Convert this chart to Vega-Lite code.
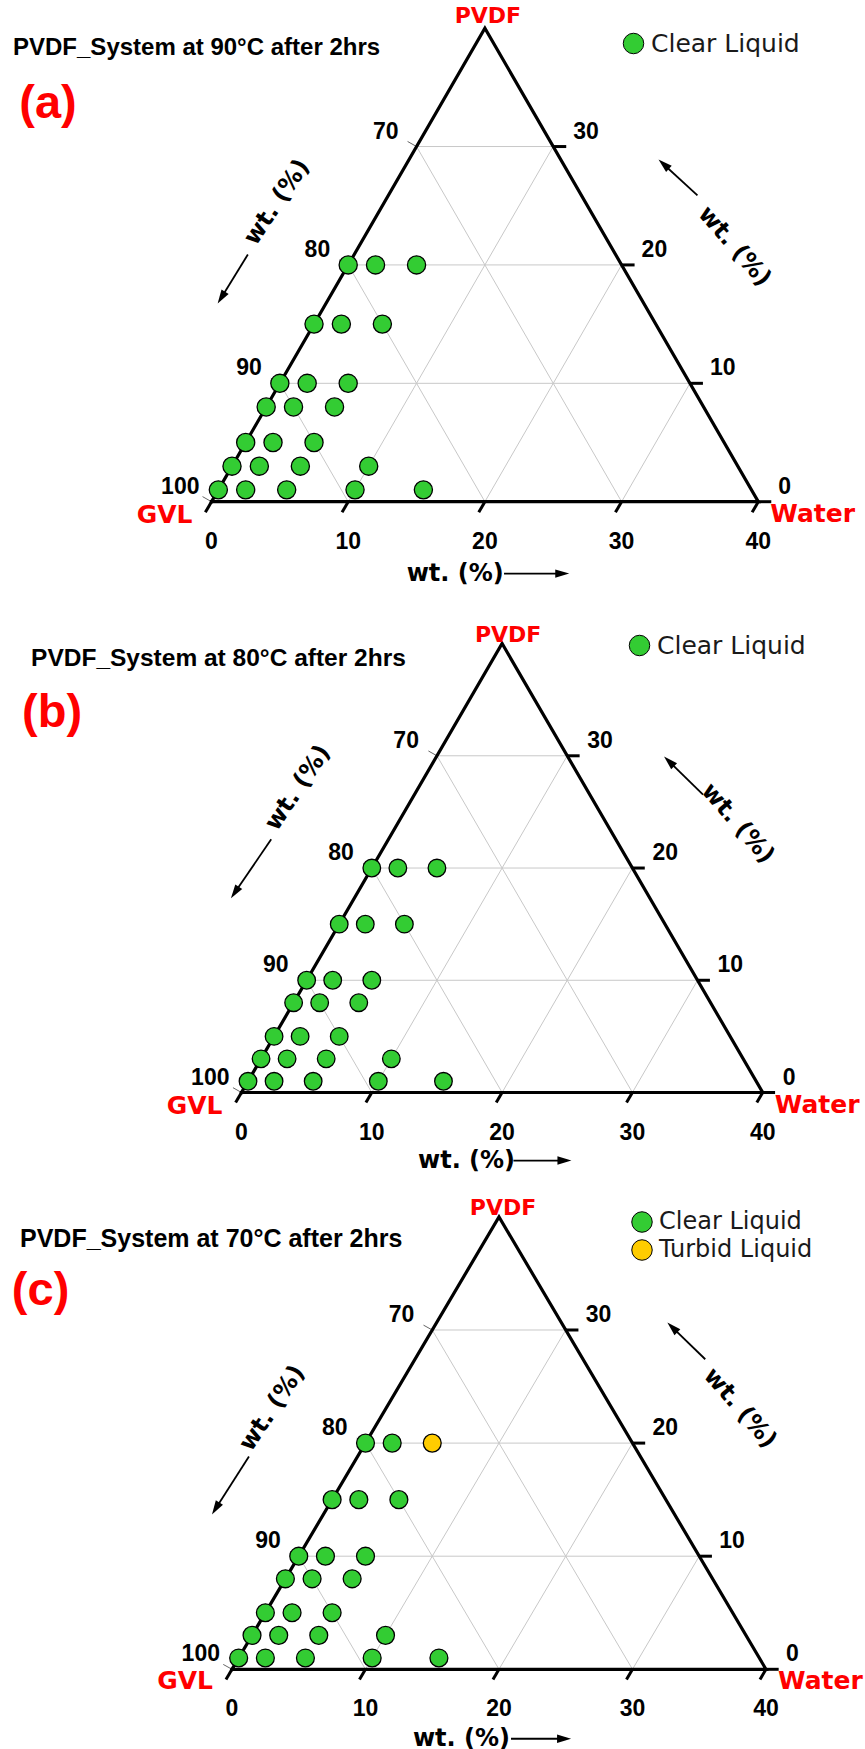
{
  "$schema": "https://vega.github.io/schema/vega-lite/v6.json",
  "background": "white",
  "padding": 0,
  "spacing": 0,
  "config": {"view": {"stroke": null}},
  "resolve": {"scale": {"fill": "independent", "x": "independent", "y": "independent"}, "legend": {"fill": "independent"}},
  "datasets": {
    "grid": [
      {"w": 0, "p": 10, "w2": 30, "p2": 10},
      {"w": 0, "p": 20, "w2": 20, "p2": 20},
      {"w": 0, "p": 30, "w2": 10, "p2": 30},
      {"w": 10, "p": 0, "w2": 10, "p2": 30},
      {"w": 20, "p": 0, "w2": 20, "p2": 20},
      {"w": 30, "p": 0, "w2": 30, "p2": 10},
      {"w": 10, "p": 0, "w2": 0, "p2": 10},
      {"w": 20, "p": 0, "w2": 0, "p2": 20},
      {"w": 30, "p": 0, "w2": 0, "p2": 30}
    ],
    "majorTicks": [
      {"w": 0, "p": 0, "w2": 0, "p2": -0.9},
      {"w": 10, "p": 0, "w2": 10, "p2": -0.9},
      {"w": 20, "p": 0, "w2": 20, "p2": -0.9},
      {"w": 30, "p": 0, "w2": 30, "p2": -0.9},
      {"w": 40, "p": 0, "w2": 40, "p2": -0.9},
      {"w": 40, "p": 0, "w2": 40.95, "p2": 0},
      {"w": 30, "p": 10, "w2": 30.95, "p2": 10},
      {"w": 20, "p": 20, "w2": 20.95, "p2": 20},
      {"w": 10, "p": 30, "w2": 10.95, "p2": 30}
    ],
    "minorTicks": [
      {"w": 0, "p": 0, "w2": -0.87, "p2": 0.43},
      {"w": 0, "p": 10, "w2": -0.87, "p2": 10.43},
      {"w": 0, "p": 20, "w2": -0.87, "p2": 20.43},
      {"w": 0, "p": 30, "w2": -0.87, "p2": 30.43}
    ],
    "frame": [
      {"w": 0, "p": 0, "k": 0},
      {"w": 40, "p": 0, "k": 1},
      {"w": 0, "p": 40, "k": 2},
      {"w": 0, "p": 0, "k": 3}
    ],
    "axisLabels": [
      {"side": "bottom", "w": 0, "p": 0, "label": "0"},
      {"side": "bottom", "w": 10, "p": 0, "label": "10"},
      {"side": "bottom", "w": 20, "p": 0, "label": "20"},
      {"side": "bottom", "w": 30, "p": 0, "label": "30"},
      {"side": "bottom", "w": 40, "p": 0, "label": "40"},
      {"side": "left", "w": 0, "p": 30, "label": "70"},
      {"side": "left", "w": 0, "p": 20, "label": "80"},
      {"side": "left", "w": 0, "p": 10, "label": "90"},
      {"side": "left", "w": 0, "p": 0, "label": "100"},
      {"side": "right", "w": 40, "p": 0, "label": "0"},
      {"side": "right", "w": 30, "p": 10, "label": "10"},
      {"side": "right", "w": 20, "p": 20, "label": "20"},
      {"side": "right", "w": 10, "p": 30, "label": "30"}
    ],
    "vertices": [
      {"name": "PVDF", "w": 0, "p": 40},
      {"name": "GVL", "w": 0, "p": 0},
      {"name": "Water", "w": 40, "p": 0}
    ],
    "wt": [{"t": "wt. (%)"}],
    "samples90": [
      {"water": 0, "pvdf": 20, "gvl": 80, "state": "Clear Liquid"},
      {"water": 2, "pvdf": 20, "gvl": 78, "state": "Clear Liquid"},
      {"water": 5, "pvdf": 20, "gvl": 75, "state": "Clear Liquid"},
      {"water": 0, "pvdf": 15, "gvl": 85, "state": "Clear Liquid"},
      {"water": 2, "pvdf": 15, "gvl": 83, "state": "Clear Liquid"},
      {"water": 5, "pvdf": 15, "gvl": 80, "state": "Clear Liquid"},
      {"water": 0, "pvdf": 10, "gvl": 90, "state": "Clear Liquid"},
      {"water": 2, "pvdf": 10, "gvl": 88, "state": "Clear Liquid"},
      {"water": 5, "pvdf": 10, "gvl": 85, "state": "Clear Liquid"},
      {"water": 0, "pvdf": 8, "gvl": 92, "state": "Clear Liquid"},
      {"water": 2, "pvdf": 8, "gvl": 90, "state": "Clear Liquid"},
      {"water": 5, "pvdf": 8, "gvl": 87, "state": "Clear Liquid"},
      {"water": 0, "pvdf": 5, "gvl": 95, "state": "Clear Liquid"},
      {"water": 2, "pvdf": 5, "gvl": 93, "state": "Clear Liquid"},
      {"water": 5, "pvdf": 5, "gvl": 90, "state": "Clear Liquid"},
      {"water": 0, "pvdf": 3, "gvl": 97, "state": "Clear Liquid"},
      {"water": 2, "pvdf": 3, "gvl": 95, "state": "Clear Liquid"},
      {"water": 5, "pvdf": 3, "gvl": 92, "state": "Clear Liquid"},
      {"water": 10, "pvdf": 3, "gvl": 87, "state": "Clear Liquid"},
      {"water": 0, "pvdf": 1, "gvl": 99, "state": "Clear Liquid"},
      {"water": 2, "pvdf": 1, "gvl": 97, "state": "Clear Liquid"},
      {"water": 5, "pvdf": 1, "gvl": 94, "state": "Clear Liquid"},
      {"water": 10, "pvdf": 1, "gvl": 89, "state": "Clear Liquid"},
      {"water": 15, "pvdf": 1, "gvl": 84, "state": "Clear Liquid"}
    ],
    "samples80": [
      {"water": 0, "pvdf": 20, "gvl": 80, "state": "Clear Liquid"},
      {"water": 2, "pvdf": 20, "gvl": 78, "state": "Clear Liquid"},
      {"water": 5, "pvdf": 20, "gvl": 75, "state": "Clear Liquid"},
      {"water": 0, "pvdf": 15, "gvl": 85, "state": "Clear Liquid"},
      {"water": 2, "pvdf": 15, "gvl": 83, "state": "Clear Liquid"},
      {"water": 5, "pvdf": 15, "gvl": 80, "state": "Clear Liquid"},
      {"water": 0, "pvdf": 10, "gvl": 90, "state": "Clear Liquid"},
      {"water": 2, "pvdf": 10, "gvl": 88, "state": "Clear Liquid"},
      {"water": 5, "pvdf": 10, "gvl": 85, "state": "Clear Liquid"},
      {"water": 0, "pvdf": 8, "gvl": 92, "state": "Clear Liquid"},
      {"water": 2, "pvdf": 8, "gvl": 90, "state": "Clear Liquid"},
      {"water": 5, "pvdf": 8, "gvl": 87, "state": "Clear Liquid"},
      {"water": 0, "pvdf": 5, "gvl": 95, "state": "Clear Liquid"},
      {"water": 2, "pvdf": 5, "gvl": 93, "state": "Clear Liquid"},
      {"water": 5, "pvdf": 5, "gvl": 90, "state": "Clear Liquid"},
      {"water": 0, "pvdf": 3, "gvl": 97, "state": "Clear Liquid"},
      {"water": 2, "pvdf": 3, "gvl": 95, "state": "Clear Liquid"},
      {"water": 5, "pvdf": 3, "gvl": 92, "state": "Clear Liquid"},
      {"water": 10, "pvdf": 3, "gvl": 87, "state": "Clear Liquid"},
      {"water": 0, "pvdf": 1, "gvl": 99, "state": "Clear Liquid"},
      {"water": 2, "pvdf": 1, "gvl": 97, "state": "Clear Liquid"},
      {"water": 5, "pvdf": 1, "gvl": 94, "state": "Clear Liquid"},
      {"water": 10, "pvdf": 1, "gvl": 89, "state": "Clear Liquid"},
      {"water": 15, "pvdf": 1, "gvl": 84, "state": "Clear Liquid"}
    ],
    "samples70": [
      {"water": 0, "pvdf": 20, "gvl": 80, "state": "Clear Liquid"},
      {"water": 2, "pvdf": 20, "gvl": 78, "state": "Clear Liquid"},
      {"water": 5, "pvdf": 20, "gvl": 75, "state": "Turbid Liquid"},
      {"water": 0, "pvdf": 15, "gvl": 85, "state": "Clear Liquid"},
      {"water": 2, "pvdf": 15, "gvl": 83, "state": "Clear Liquid"},
      {"water": 5, "pvdf": 15, "gvl": 80, "state": "Clear Liquid"},
      {"water": 0, "pvdf": 10, "gvl": 90, "state": "Clear Liquid"},
      {"water": 2, "pvdf": 10, "gvl": 88, "state": "Clear Liquid"},
      {"water": 5, "pvdf": 10, "gvl": 85, "state": "Clear Liquid"},
      {"water": 0, "pvdf": 8, "gvl": 92, "state": "Clear Liquid"},
      {"water": 2, "pvdf": 8, "gvl": 90, "state": "Clear Liquid"},
      {"water": 5, "pvdf": 8, "gvl": 87, "state": "Clear Liquid"},
      {"water": 0, "pvdf": 5, "gvl": 95, "state": "Clear Liquid"},
      {"water": 2, "pvdf": 5, "gvl": 93, "state": "Clear Liquid"},
      {"water": 5, "pvdf": 5, "gvl": 90, "state": "Clear Liquid"},
      {"water": 0, "pvdf": 3, "gvl": 97, "state": "Clear Liquid"},
      {"water": 2, "pvdf": 3, "gvl": 95, "state": "Clear Liquid"},
      {"water": 5, "pvdf": 3, "gvl": 92, "state": "Clear Liquid"},
      {"water": 10, "pvdf": 3, "gvl": 87, "state": "Clear Liquid"},
      {"water": 0, "pvdf": 1, "gvl": 99, "state": "Clear Liquid"},
      {"water": 2, "pvdf": 1, "gvl": 97, "state": "Clear Liquid"},
      {"water": 5, "pvdf": 1, "gvl": 94, "state": "Clear Liquid"},
      {"water": 10, "pvdf": 1, "gvl": 89, "state": "Clear Liquid"},
      {"water": 15, "pvdf": 1, "gvl": 84, "state": "Clear Liquid"}
    ]
  },
  "vconcat": [
    {
      "width": 865,
      "height": 600,
      "layer": [
        {
          "encoding": {
            "x": {"field": "X", "type": "quantitative", "axis": null, "scale": {"domain": [-15.472, 47.806], "nice": false, "zero": false}},
            "y": {"field": "Y", "type": "quantitative", "axis": null, "scale": {"domain": [-7.191, 36.701], "nice": false, "zero": false}}
          },
          "layer": [
            {"data": {"name": "grid"}, "transform": [{"calculate": "datum.w + datum.p/2", "as": "X"}, {"calculate": "datum.p*0.8660254", "as": "Y"}, {"calculate": "datum.w2 + datum.p2/2", "as": "X2"}, {"calculate": "datum.p2*0.8660254", "as": "Y2"}],
             "mark": {"type": "rule", "color": "#c8c8c8", "strokeWidth": 1}, "encoding": {"x2": {"field": "X2"}, "y2": {"field": "Y2"}}},
            {"data": {"name": "minorTicks"}, "transform": [{"calculate": "datum.w + datum.p/2", "as": "X"}, {"calculate": "datum.p*0.8660254", "as": "Y"}, {"calculate": "datum.w2 + datum.p2/2", "as": "X2"}, {"calculate": "datum.p2*0.8660254", "as": "Y2"}],
             "mark": {"type": "rule", "color": "#666666", "strokeWidth": 1}, "encoding": {"x2": {"field": "X2"}, "y2": {"field": "Y2"}}},
            {"data": {"name": "majorTicks"}, "transform": [{"calculate": "datum.w + datum.p/2", "as": "X"}, {"calculate": "datum.p*0.8660254", "as": "Y"}, {"calculate": "datum.w2 + datum.p2/2", "as": "X2"}, {"calculate": "datum.p2*0.8660254", "as": "Y2"}],
             "mark": {"type": "rule", "color": "black", "strokeWidth": 3}, "encoding": {"x2": {"field": "X2"}, "y2": {"field": "Y2"}}},
            {"data": {"name": "frame"}, "transform": [{"calculate": "datum.w + datum.p/2", "as": "X"}, {"calculate": "datum.p*0.8660254", "as": "Y"}],
             "mark": {"type": "line", "color": "black", "strokeWidth": 3.2, "strokeJoin": "miter", "strokeCap": "square"}, "encoding": {"order": {"field": "k", "type": "quantitative"}}},
            {"data": {"name": "samples90"}, "transform": [{"calculate": "datum.water + datum.pvdf/2", "as": "X"}, {"calculate": "datum.pvdf*0.8660254", "as": "Y"}],
             "mark": {"type": "point", "shape": "circle", "filled": true, "opacity": 1, "size": 330, "stroke": "black", "strokeWidth": 1.3},
             "encoding": {"fill": {"field": "state", "type": "nominal", "scale": {"domain": ["Clear Liquid"], "range": ["#33cc33"]},
               "legend": {"orient": "none", "legendX": 621, "legendY": 31, "title": null, "symbolType": "circle", "symbolSize": 420, "symbolStrokeColor": "black", "symbolStrokeWidth": 1, "labelFont": "DejaVu Sans", "labelFontSize": 25, "labelColor": "#1a1a1a", "labelOffset": 5, "rowPadding": 2, "padding": 0, "labelLimit": 300,
                 "encode": {"symbols": {"update": {"fill": {"signal": "datum.value === 'Clear Liquid' ? '#009933' : '#ffcc00'"}, "stroke": {"value": "black"}, "strokeWidth": {"value": 1}, "opacity": {"value": 1}}}}}}}},
            {"data": {"name": "axisLabels"}, "transform": [{"filter": "datum.side === 'bottom'"}, {"calculate": "datum.w + datum.p/2", "as": "X"}, {"calculate": "datum.p*0.8660254", "as": "Y"}],
             "mark": {"type": "text", "font": "Liberation Sans", "fontWeight": "bold", "fontSize": 23, "color": "black", "align": "center", "baseline": "alphabetic", "dy": 47}, "encoding": {"text": {"field": "label"}}},
            {"data": {"name": "axisLabels"}, "transform": [{"filter": "datum.side === 'left' && datum.label !== '100'"}, {"calculate": "datum.w + datum.p/2", "as": "X"}, {"calculate": "datum.p*0.8660254", "as": "Y"}],
             "mark": {"type": "text", "font": "Liberation Sans", "fontWeight": "bold", "fontSize": 23, "color": "black", "align": "right", "baseline": "alphabetic", "dx": -18, "dy": -8}, "encoding": {"text": {"field": "label"}}},
            {"data": {"name": "axisLabels"}, "transform": [{"filter": "datum.side === 'left' && datum.label === '100'"}, {"calculate": "datum.w + datum.p/2", "as": "X"}, {"calculate": "datum.p*0.8660254", "as": "Y"}],
             "mark": {"type": "text", "font": "Liberation Sans", "fontWeight": "bold", "fontSize": 23, "color": "black", "align": "right", "baseline": "alphabetic", "dx": -12, "dy": -8}, "encoding": {"text": {"field": "label"}}},
            {"data": {"name": "axisLabels"}, "transform": [{"filter": "datum.side === 'right'"}, {"calculate": "datum.w + datum.p/2", "as": "X"}, {"calculate": "datum.p*0.8660254", "as": "Y"}],
             "mark": {"type": "text", "font": "Liberation Sans", "fontWeight": "bold", "fontSize": 23, "color": "black", "align": "left", "baseline": "alphabetic", "dx": 20, "dy": -8}, "encoding": {"text": {"field": "label"}}},
            {"data": {"name": "vertices"}, "transform": [{"filter": "datum.name === 'PVDF'"}, {"calculate": "datum.w + datum.p/2", "as": "X"}, {"calculate": "datum.p*0.8660254", "as": "Y"}],
             "mark": {"type": "text", "font": "DejaVu Sans", "fontWeight": "bold", "fontSize": 22, "color": "#ff0000", "align": "center", "baseline": "alphabetic", "dx": 3, "dy": -5}, "encoding": {"text": {"field": "name"}}},
            {"data": {"name": "vertices"}, "transform": [{"filter": "datum.name === 'GVL'"}, {"calculate": "datum.w + datum.p/2", "as": "X"}, {"calculate": "datum.p*0.8660254", "as": "Y"}],
             "mark": {"type": "text", "font": "DejaVu Sans", "fontWeight": "bold", "fontSize": 25, "color": "#ff0000", "align": "right", "baseline": "alphabetic", "dx": -19, "dy": 21}, "encoding": {"text": {"field": "name"}}},
            {"data": {"name": "vertices"}, "transform": [{"filter": "datum.name === 'Water'"}, {"calculate": "datum.w + datum.p/2", "as": "X"}, {"calculate": "datum.p*0.8660254", "as": "Y"}],
             "mark": {"type": "text", "font": "DejaVu Sans", "fontWeight": "bold", "fontSize": 25, "color": "#ff0000", "align": "left", "baseline": "alphabetic", "dx": 12, "dy": 20}, "encoding": {"text": {"field": "name"}}}
          ]
        },
        {
          "layer": [
            {"data": {"values": [{"caption": "PVDF_System at 90°C after 2hrs"}]},
             "mark": {"type": "text", "font": "Liberation Sans", "fontWeight": "bold", "fontSize": 24, "color": "black", "align": "left", "baseline": "alphabetic"},
             "encoding": {"x": {"datum": -14.52}, "y": {"datum": 32.68}, "text": {"field": "caption"}}},
            {"data": {"values": [{"tag": "(a)"}]},
             "mark": {"type": "text", "font": "Liberation Sans", "fontWeight": "bold", "fontSize": 47, "color": "#ff0000", "align": "center", "baseline": "alphabetic"},
             "encoding": {"x": {"datum": -11.96}, "y": {"datum": 28.07}, "text": {"field": "tag"}}},
            {"data": {"name": "wt"}, "mark": {"type": "text", "font": "DejaVu Sans", "fontWeight": "bold", "fontSize": 24, "color": "black", "align": "center", "baseline": "middle", "angle": 304},
             "encoding": {"x": {"datum": 4.8}, "y": {"datum": 21.9}, "text": {"field": "t"}}},
            {"data": {"name": "wt"}, "mark": {"type": "text", "font": "DejaVu Sans", "fontWeight": "bold", "fontSize": 24, "color": "black", "align": "center", "baseline": "middle", "angle": 49},
             "encoding": {"x": {"datum": 38.25}, "y": {"datum": 18.66}, "text": {"field": "t"}}},
            {"data": {"name": "wt"}, "mark": {"type": "text", "font": "DejaVu Sans", "fontWeight": "bold", "fontSize": 24, "color": "black", "align": "center", "baseline": "middle"},
             "encoding": {"x": {"datum": 17.83}, "y": {"datum": -5.26}, "text": {"field": "t"}}},
            {"data": {"name": "wt"}, "mark": {"type": "rule", "color": "black", "strokeWidth": 1.8},
             "encoding": {"x": {"datum": 2.66}, "y": {"datum": 18.08}, "x2": {"datum": 0.66}, "y2": {"datum": 14.83}}},
            {"data": {"name": "wt"}, "mark": {"type": "rule", "color": "black", "strokeWidth": 1.8},
             "encoding": {"x": {"datum": 35.55}, "y": {"datum": 22.41}, "x2": {"datum": 32.99}, "y2": {"datum": 24.76}}},
            {"data": {"name": "wt"}, "mark": {"type": "rule", "color": "black", "strokeWidth": 1.8},
             "encoding": {"x": {"datum": 21.4}, "y": {"datum": -5.26}, "x2": {"datum": 25.8}, "y2": {"datum": -5.26}}},
            {"data": {"name": "wt"}, "mark": {"type": "point", "shape": "M0,0L-2,-0.6L-2,0.6Z", "filled": true, "opacity": 1, "color": "black", "size": 196, "angle": 122},
             "encoding": {"x": {"datum": 0.45}, "y": {"datum": 14.49}}},
            {"data": {"name": "wt"}, "mark": {"type": "point", "shape": "M0,0L-2,-0.6L-2,0.6Z", "filled": true, "opacity": 1, "color": "black", "size": 196, "angle": 222},
             "encoding": {"x": {"datum": 32.7}, "y": {"datum": 25.03}}},
            {"data": {"name": "wt"}, "mark": {"type": "point", "shape": "M0,0L-2,-0.6L-2,0.6Z", "filled": true, "opacity": 1, "color": "black", "size": 196, "angle": 0},
             "encoding": {"x": {"datum": 26.17}, "y": {"datum": -5.26}}}
          ]
        }
      ]
    },
    {
      "width": 865,
      "height": 585,
      "layer": [
        {
          "encoding": {
            "x": {"field": "X", "type": "quantitative", "axis": null, "scale": {"domain": [-18.534, 47.851], "nice": false, "zero": false}},
            "y": {"field": "Y", "type": "quantitative", "axis": null, "scale": {"domain": [-7.137, 38.002], "nice": false, "zero": false}}
          },
          "layer": [
            {"data": {"name": "grid"}, "transform": [{"calculate": "datum.w + datum.p/2", "as": "X"}, {"calculate": "datum.p*0.8660254", "as": "Y"}, {"calculate": "datum.w2 + datum.p2/2", "as": "X2"}, {"calculate": "datum.p2*0.8660254", "as": "Y2"}],
             "mark": {"type": "rule", "color": "#c8c8c8", "strokeWidth": 1}, "encoding": {"x2": {"field": "X2"}, "y2": {"field": "Y2"}}},
            {"data": {"name": "minorTicks"}, "transform": [{"calculate": "datum.w + datum.p/2", "as": "X"}, {"calculate": "datum.p*0.8660254", "as": "Y"}, {"calculate": "datum.w2 + datum.p2/2", "as": "X2"}, {"calculate": "datum.p2*0.8660254", "as": "Y2"}],
             "mark": {"type": "rule", "color": "#666666", "strokeWidth": 1}, "encoding": {"x2": {"field": "X2"}, "y2": {"field": "Y2"}}},
            {"data": {"name": "majorTicks"}, "transform": [{"calculate": "datum.w + datum.p/2", "as": "X"}, {"calculate": "datum.p*0.8660254", "as": "Y"}, {"calculate": "datum.w2 + datum.p2/2", "as": "X2"}, {"calculate": "datum.p2*0.8660254", "as": "Y2"}],
             "mark": {"type": "rule", "color": "black", "strokeWidth": 3}, "encoding": {"x2": {"field": "X2"}, "y2": {"field": "Y2"}}},
            {"data": {"name": "frame"}, "transform": [{"calculate": "datum.w + datum.p/2", "as": "X"}, {"calculate": "datum.p*0.8660254", "as": "Y"}],
             "mark": {"type": "line", "color": "black", "strokeWidth": 3.2, "strokeJoin": "miter", "strokeCap": "square"}, "encoding": {"order": {"field": "k", "type": "quantitative"}}},
            {"data": {"name": "samples80"}, "transform": [{"calculate": "datum.water + datum.pvdf/2", "as": "X"}, {"calculate": "datum.pvdf*0.8660254", "as": "Y"}],
             "mark": {"type": "point", "shape": "circle", "filled": true, "opacity": 1, "size": 310, "stroke": "black", "strokeWidth": 1.3},
             "encoding": {"fill": {"field": "state", "type": "nominal", "scale": {"domain": ["Clear Liquid"], "range": ["#33cc33"]},
               "legend": {"orient": "none", "legendX": 627, "legendY": 33, "title": null, "symbolType": "circle", "symbolSize": 420, "symbolStrokeColor": "black", "symbolStrokeWidth": 1, "labelFont": "DejaVu Sans", "labelFontSize": 25, "labelColor": "#1a1a1a", "labelOffset": 5, "rowPadding": 2, "padding": 0, "labelLimit": 300,
                 "encode": {"symbols": {"update": {"fill": {"signal": "datum.value === 'Clear Liquid' ? '#009933' : '#ffcc00'"}, "stroke": {"value": "black"}, "strokeWidth": {"value": 1}, "opacity": {"value": 1}}}}}}}},
            {"data": {"name": "axisLabels"}, "transform": [{"filter": "datum.side === 'bottom'"}, {"calculate": "datum.w + datum.p/2", "as": "X"}, {"calculate": "datum.p*0.8660254", "as": "Y"}],
             "mark": {"type": "text", "font": "Liberation Sans", "fontWeight": "bold", "fontSize": 23, "color": "black", "align": "center", "baseline": "alphabetic", "dy": 47}, "encoding": {"text": {"field": "label"}}},
            {"data": {"name": "axisLabels"}, "transform": [{"filter": "datum.side === 'left' && datum.label !== '100'"}, {"calculate": "datum.w + datum.p/2", "as": "X"}, {"calculate": "datum.p*0.8660254", "as": "Y"}],
             "mark": {"type": "text", "font": "Liberation Sans", "fontWeight": "bold", "fontSize": 23, "color": "black", "align": "right", "baseline": "alphabetic", "dx": -18, "dy": -8}, "encoding": {"text": {"field": "label"}}},
            {"data": {"name": "axisLabels"}, "transform": [{"filter": "datum.side === 'left' && datum.label === '100'"}, {"calculate": "datum.w + datum.p/2", "as": "X"}, {"calculate": "datum.p*0.8660254", "as": "Y"}],
             "mark": {"type": "text", "font": "Liberation Sans", "fontWeight": "bold", "fontSize": 23, "color": "black", "align": "right", "baseline": "alphabetic", "dx": -12, "dy": -8}, "encoding": {"text": {"field": "label"}}},
            {"data": {"name": "axisLabels"}, "transform": [{"filter": "datum.side === 'right'"}, {"calculate": "datum.w + datum.p/2", "as": "X"}, {"calculate": "datum.p*0.8660254", "as": "Y"}],
             "mark": {"type": "text", "font": "Liberation Sans", "fontWeight": "bold", "fontSize": 23, "color": "black", "align": "left", "baseline": "alphabetic", "dx": 20, "dy": -8}, "encoding": {"text": {"field": "label"}}},
            {"data": {"name": "vertices"}, "transform": [{"filter": "datum.name === 'PVDF'"}, {"calculate": "datum.w + datum.p/2", "as": "X"}, {"calculate": "datum.p*0.8660254", "as": "Y"}],
             "mark": {"type": "text", "font": "DejaVu Sans", "fontWeight": "bold", "fontSize": 22, "color": "#ff0000", "align": "center", "baseline": "alphabetic", "dx": 6, "dy": -2}, "encoding": {"text": {"field": "name"}}},
            {"data": {"name": "vertices"}, "transform": [{"filter": "datum.name === 'GVL'"}, {"calculate": "datum.w + datum.p/2", "as": "X"}, {"calculate": "datum.p*0.8660254", "as": "Y"}],
             "mark": {"type": "text", "font": "DejaVu Sans", "fontWeight": "bold", "fontSize": 25, "color": "#ff0000", "align": "right", "baseline": "alphabetic", "dx": -19, "dy": 21}, "encoding": {"text": {"field": "name"}}},
            {"data": {"name": "vertices"}, "transform": [{"filter": "datum.name === 'Water'"}, {"calculate": "datum.w + datum.p/2", "as": "X"}, {"calculate": "datum.p*0.8660254", "as": "Y"}],
             "mark": {"type": "text", "font": "DejaVu Sans", "fontWeight": "bold", "fontSize": 25, "color": "#ff0000", "align": "left", "baseline": "alphabetic", "dx": 12, "dy": 20}, "encoding": {"text": {"field": "name"}}}
          ]
        },
        {
          "layer": [
            {"data": {"values": [{"caption": "PVDF_System at 80°C after 2hrs"}]},
             "mark": {"type": "text", "font": "Liberation Sans", "fontWeight": "bold", "fontSize": 24.5, "color": "black", "align": "left", "baseline": "alphabetic"},
             "encoding": {"x": {"datum": -16.15}, "y": {"datum": 32.91}, "text": {"field": "caption"}}},
            {"data": {"values": [{"tag": "(b)"}]},
             "mark": {"type": "text", "font": "Liberation Sans", "fontWeight": "bold", "fontSize": 47, "color": "#ff0000", "align": "center", "baseline": "alphabetic"},
             "encoding": {"x": {"datum": -14.54}, "y": {"datum": 28.2}, "text": {"field": "tag"}}},
            {"data": {"name": "wt"}, "mark": {"type": "text", "font": "DejaVu Sans", "fontWeight": "bold", "fontSize": 24, "color": "black", "align": "center", "baseline": "middle", "angle": 304},
             "encoding": {"x": {"datum": 4.34}, "y": {"datum": 23.5}, "text": {"field": "t"}}},
            {"data": {"name": "wt"}, "mark": {"type": "text", "font": "DejaVu Sans", "fontWeight": "bold", "fontSize": 24, "color": "black", "align": "center", "baseline": "middle", "angle": 49},
             "encoding": {"x": {"datum": 38.08}, "y": {"datum": 20.75}, "text": {"field": "t"}}},
            {"data": {"name": "wt"}, "mark": {"type": "text", "font": "DejaVu Sans", "fontWeight": "bold", "fontSize": 24, "color": "black", "align": "center", "baseline": "middle"},
             "encoding": {"x": {"datum": 17.27}, "y": {"datum": -5.25}, "text": {"field": "t"}}},
            {"data": {"name": "wt"}, "mark": {"type": "rule", "color": "black", "strokeWidth": 1.8},
             "encoding": {"x": {"datum": 2.28}, "y": {"datum": 19.54}, "x2": {"datum": -0.59}, "y2": {"datum": 15.31}}},
            {"data": {"name": "wt"}, "mark": {"type": "rule", "color": "black", "strokeWidth": 1.8},
             "encoding": {"x": {"datum": 35.42}, "y": {"datum": 22.99}, "x2": {"datum": 32.72}, "y2": {"datum": 25.64}}},
            {"data": {"name": "wt"}, "mark": {"type": "rule", "color": "black", "strokeWidth": 1.8},
             "encoding": {"x": {"datum": 20.87}, "y": {"datum": -5.25}, "x2": {"datum": 24.95}, "y2": {"datum": -5.25}}},
            {"data": {"name": "wt"}, "mark": {"type": "point", "shape": "M0,0L-2,-0.6L-2,0.6Z", "filled": true, "opacity": 1, "color": "black", "size": 196, "angle": 124},
             "encoding": {"x": {"datum": -0.81}, "y": {"datum": 14.98}}},
            {"data": {"name": "wt"}, "mark": {"type": "point", "shape": "M0,0L-2,-0.6L-2,0.6Z", "filled": true, "opacity": 1, "color": "black", "size": 196, "angle": 224},
             "encoding": {"x": {"datum": 32.43}, "y": {"datum": 25.92}}},
            {"data": {"name": "wt"}, "mark": {"type": "point", "shape": "M0,0L-2,-0.6L-2,0.6Z", "filled": true, "opacity": 1, "color": "black", "size": 196, "angle": 0},
             "encoding": {"x": {"datum": 25.32}, "y": {"datum": -5.25}}}
          ]
        }
      ]
    },
    {
      "width": 865,
      "height": 564,
      "layer": [
        {
          "encoding": {
            "x": {"field": "X", "type": "quantitative", "axis": null, "scale": {"domain": [-17.378, 47.416], "nice": false, "zero": false}},
            "y": {"field": "Y", "type": "quantitative", "axis": null, "scale": {"domain": [-6.103, 37.083], "nice": false, "zero": false}}
          },
          "layer": [
            {"data": {"name": "grid"}, "transform": [{"calculate": "datum.w + datum.p/2", "as": "X"}, {"calculate": "datum.p*0.8660254", "as": "Y"}, {"calculate": "datum.w2 + datum.p2/2", "as": "X2"}, {"calculate": "datum.p2*0.8660254", "as": "Y2"}],
             "mark": {"type": "rule", "color": "#c8c8c8", "strokeWidth": 1}, "encoding": {"x2": {"field": "X2"}, "y2": {"field": "Y2"}}},
            {"data": {"name": "minorTicks"}, "transform": [{"calculate": "datum.w + datum.p/2", "as": "X"}, {"calculate": "datum.p*0.8660254", "as": "Y"}, {"calculate": "datum.w2 + datum.p2/2", "as": "X2"}, {"calculate": "datum.p2*0.8660254", "as": "Y2"}],
             "mark": {"type": "rule", "color": "#666666", "strokeWidth": 1}, "encoding": {"x2": {"field": "X2"}, "y2": {"field": "Y2"}}},
            {"data": {"name": "majorTicks"}, "transform": [{"calculate": "datum.w + datum.p/2", "as": "X"}, {"calculate": "datum.p*0.8660254", "as": "Y"}, {"calculate": "datum.w2 + datum.p2/2", "as": "X2"}, {"calculate": "datum.p2*0.8660254", "as": "Y2"}],
             "mark": {"type": "rule", "color": "black", "strokeWidth": 3}, "encoding": {"x2": {"field": "X2"}, "y2": {"field": "Y2"}}},
            {"data": {"name": "frame"}, "transform": [{"calculate": "datum.w + datum.p/2", "as": "X"}, {"calculate": "datum.p*0.8660254", "as": "Y"}],
             "mark": {"type": "line", "color": "black", "strokeWidth": 3.2, "strokeJoin": "miter", "strokeCap": "square"}, "encoding": {"order": {"field": "k", "type": "quantitative"}}},
            {"data": {"name": "samples70"}, "transform": [{"calculate": "datum.water + datum.pvdf/2", "as": "X"}, {"calculate": "datum.pvdf*0.8660254", "as": "Y"}],
             "mark": {"type": "point", "shape": "circle", "filled": true, "opacity": 1, "size": 320, "stroke": "black", "strokeWidth": 1.3},
             "encoding": {"fill": {"field": "state", "type": "nominal", "scale": {"domain": ["Clear Liquid", "Turbid Liquid"], "range": ["#33cc33", "#ffcc00"]},
               "legend": {"orient": "none", "legendX": 630, "legendY": 25, "title": null, "symbolType": "circle", "symbolSize": 420, "symbolStrokeColor": "black", "symbolStrokeWidth": 1, "labelFont": "DejaVu Sans", "labelFontSize": 24, "labelColor": "#1a1a1a", "labelOffset": 5, "rowPadding": 2, "padding": 0, "labelLimit": 300,
                 "encode": {"symbols": {"update": {"fill": {"signal": "datum.value === 'Clear Liquid' ? '#009933' : '#ffcc00'"}, "stroke": {"value": "black"}, "strokeWidth": {"value": 1}, "opacity": {"value": 1}}}}}}}},
            {"data": {"name": "axisLabels"}, "transform": [{"filter": "datum.side === 'bottom'"}, {"calculate": "datum.w + datum.p/2", "as": "X"}, {"calculate": "datum.p*0.8660254", "as": "Y"}],
             "mark": {"type": "text", "font": "Liberation Sans", "fontWeight": "bold", "fontSize": 23, "color": "black", "align": "center", "baseline": "alphabetic", "dy": 47}, "encoding": {"text": {"field": "label"}}},
            {"data": {"name": "axisLabels"}, "transform": [{"filter": "datum.side === 'left' && datum.label !== '100'"}, {"calculate": "datum.w + datum.p/2", "as": "X"}, {"calculate": "datum.p*0.8660254", "as": "Y"}],
             "mark": {"type": "text", "font": "Liberation Sans", "fontWeight": "bold", "fontSize": 23, "color": "black", "align": "right", "baseline": "alphabetic", "dx": -18, "dy": -8}, "encoding": {"text": {"field": "label"}}},
            {"data": {"name": "axisLabels"}, "transform": [{"filter": "datum.side === 'left' && datum.label === '100'"}, {"calculate": "datum.w + datum.p/2", "as": "X"}, {"calculate": "datum.p*0.8660254", "as": "Y"}],
             "mark": {"type": "text", "font": "Liberation Sans", "fontWeight": "bold", "fontSize": 23, "color": "black", "align": "right", "baseline": "alphabetic", "dx": -12, "dy": -8}, "encoding": {"text": {"field": "label"}}},
            {"data": {"name": "axisLabels"}, "transform": [{"filter": "datum.side === 'right'"}, {"calculate": "datum.w + datum.p/2", "as": "X"}, {"calculate": "datum.p*0.8660254", "as": "Y"}],
             "mark": {"type": "text", "font": "Liberation Sans", "fontWeight": "bold", "fontSize": 23, "color": "black", "align": "left", "baseline": "alphabetic", "dx": 20, "dy": -8}, "encoding": {"text": {"field": "label"}}},
            {"data": {"name": "vertices"}, "transform": [{"filter": "datum.name === 'PVDF'"}, {"calculate": "datum.w + datum.p/2", "as": "X"}, {"calculate": "datum.p*0.8660254", "as": "Y"}],
             "mark": {"type": "text", "font": "DejaVu Sans", "fontWeight": "bold", "fontSize": 22, "color": "#ff0000", "align": "center", "baseline": "alphabetic", "dx": 4, "dy": -2}, "encoding": {"text": {"field": "name"}}},
            {"data": {"name": "vertices"}, "transform": [{"filter": "datum.name === 'GVL'"}, {"calculate": "datum.w + datum.p/2", "as": "X"}, {"calculate": "datum.p*0.8660254", "as": "Y"}],
             "mark": {"type": "text", "font": "DejaVu Sans", "fontWeight": "bold", "fontSize": 25, "color": "#ff0000", "align": "right", "baseline": "alphabetic", "dx": -19, "dy": 20}, "encoding": {"text": {"field": "name"}}},
            {"data": {"name": "vertices"}, "transform": [{"filter": "datum.name === 'Water'"}, {"calculate": "datum.w + datum.p/2", "as": "X"}, {"calculate": "datum.p*0.8660254", "as": "Y"}],
             "mark": {"type": "text", "font": "DejaVu Sans", "fontWeight": "bold", "fontSize": 25, "color": "#ff0000", "align": "left", "baseline": "alphabetic", "dx": 12, "dy": 20}, "encoding": {"text": {"field": "name"}}}
          ]
        },
        {
          "layer": [
            {"data": {"values": [{"caption": "PVDF_System at 70°C after 2hrs"}]},
             "mark": {"type": "text", "font": "Liberation Sans", "fontWeight": "bold", "fontSize": 25, "color": "black", "align": "left", "baseline": "alphabetic"},
             "encoding": {"x": {"datum": -15.88}, "y": {"datum": 32.34}, "text": {"field": "caption"}}},
            {"data": {"values": [{"tag": "(c)"}]},
             "mark": {"type": "text", "font": "Liberation Sans", "fontWeight": "bold", "fontSize": 47, "color": "#ff0000", "align": "center", "baseline": "alphabetic"},
             "encoding": {"x": {"datum": -14.34}, "y": {"datum": 27.89}, "text": {"field": "tag"}}},
            {"data": {"name": "wt"}, "mark": {"type": "text", "font": "DejaVu Sans", "fontWeight": "bold", "fontSize": 24, "color": "black", "align": "center", "baseline": "middle", "angle": 304},
             "encoding": {"x": {"datum": 3.02}, "y": {"datum": 19.98}, "text": {"field": "t"}}},
            {"data": {"name": "wt"}, "mark": {"type": "text", "font": "DejaVu Sans", "fontWeight": "bold", "fontSize": 24, "color": "black", "align": "center", "baseline": "middle", "angle": 49},
             "encoding": {"x": {"datum": 38.05}, "y": {"datum": 19.98}, "text": {"field": "t"}}},
            {"data": {"name": "wt"}, "mark": {"type": "text", "font": "DejaVu Sans", "fontWeight": "bold", "fontSize": 24, "color": "black", "align": "center", "baseline": "middle"},
             "encoding": {"x": {"datum": 17.19}, "y": {"datum": -5.32}, "text": {"field": "t"}}},
            {"data": {"name": "wt"}, "mark": {"type": "rule", "color": "black", "strokeWidth": 1.8},
             "encoding": {"x": {"datum": 1.27}, "y": {"datum": 16.3}, "x2": {"datum": -1.29}, "y2": {"datum": 12.2}}},
            {"data": {"name": "wt"}, "mark": {"type": "rule", "color": "black", "strokeWidth": 1.8},
             "encoding": {"x": {"datum": 35.45}, "y": {"datum": 23.74}, "x2": {"datum": 32.89}, "y2": {"datum": 26.27}}},
            {"data": {"name": "wt"}, "mark": {"type": "rule", "color": "black", "strokeWidth": 1.8},
             "encoding": {"x": {"datum": 20.9}, "y": {"datum": -5.32}, "x2": {"datum": 25.03}, "y2": {"datum": -5.32}}},
            {"data": {"name": "wt"}, "mark": {"type": "point", "shape": "M0,0L-2,-0.6L-2,0.6Z", "filled": true, "opacity": 1, "color": "black", "size": 196, "angle": 122},
             "encoding": {"x": {"datum": -1.5}, "y": {"datum": 11.86}}},
            {"data": {"name": "wt"}, "mark": {"type": "point", "shape": "M0,0L-2,-0.6L-2,0.6Z", "filled": true, "opacity": 1, "color": "black", "size": 196, "angle": 224},
             "encoding": {"x": {"datum": 32.61}, "y": {"datum": 26.55}}},
            {"data": {"name": "wt"}, "mark": {"type": "point", "shape": "M0,0L-2,-0.6L-2,0.6Z", "filled": true, "opacity": 1, "color": "black", "size": 196, "angle": 0},
             "encoding": {"x": {"datum": 25.4}, "y": {"datum": -5.32}}}
          ]
        }
      ]
    }
  ]
}
